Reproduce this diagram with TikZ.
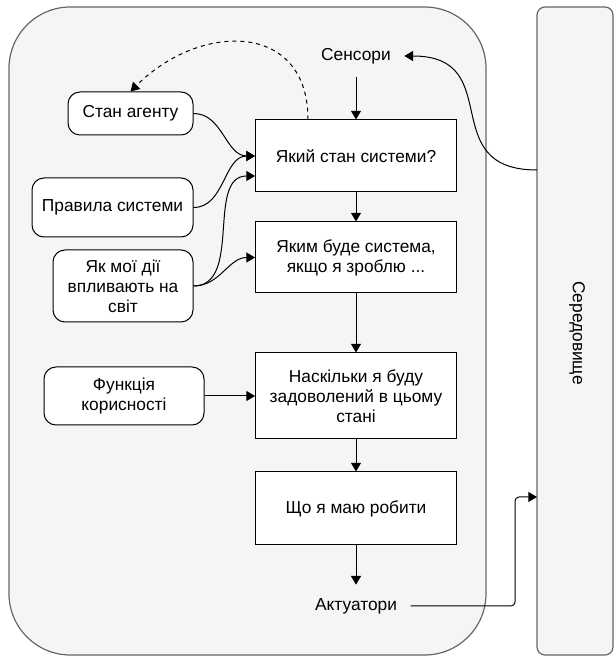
\documentclass[tikz,border=0pt]{standalone}
\usepackage{fontspec}
\setmainfont{Liberation Sans}
\usetikzlibrary{graphs}
\usetikzlibrary{arrows.meta}
\usetikzlibrary{calc}
\definecolor{panelfill}{HTML}{F5F5F5}
\definecolor{panelline}{HTML}{666666}
\tikzstyle{basic} = [text centered, align=center, font=\fontsize{13}{15}\selectfont]
\tikzstyle{question} = [basic, draw, fill=white, line width=0.75pt, minimum width=150.75pt]
\tikzstyle{knowledge} = [basic, draw, fill=white, line width=0.75pt, rounded corners=9pt]
\tikzstyle{port} = [basic, inner sep=10pt]
\tikzstyle{region} = [draw=panelline, fill=panelfill, line width=0.9pt]
\tikzstyle{flow} = [-{Triangle[length=6.5pt,width=7.5pt]}, line width=0.75pt]

\begin{document}
\begin{tikzpicture}[x=0.75pt, y=0.75pt]
        \useasboundingbox (0,0) rectangle (614,657);

        % agent and environment
        \draw[region, rounded corners=46pt] (9,2) rectangle (486,650);
        \node[region, rounded corners=6pt, minimum width=57pt, minimum height=486pt] (env) at (575,326) {};
        \node[basic, rotate=-90] (envname) at (577,324) {Середовище};

        % agent internals
        \node[port](sens) at (356,601) {Сенсори};
        \node[question, minimum height=54pt](q1) at (356,501) {Який стан системи?};
        \node[question, minimum height=53.25pt](q2) at (356,399.5) {Яким буде система, \\ якщо я зроблю ...};
        \node[question, minimum height=64.5pt](q3) at (356,261) {Наскільки я буду \\ задоволений в цьому \\ стані};
        \node[question, minimum height=54.75pt](q4) at (356,148.5) {Що я маю робити};
        \node[port](act) at (356,51) {Актуатори};

        \node[knowledge, minimum width=93.75pt, minimum height=32.25pt](state) at (130.5,543.5) {Стан агенту};
        \node[knowledge, minimum width=120.75pt, minimum height=44.25pt](rules) at (112.5,449.5) {Правила системи};
        \node[knowledge, minimum width=105pt, minimum height=54pt](world) at (123,371) {Як мої дії \\ впливають на \\ світ};
        \node[knowledge, minimum width=120pt, minimum height=43.5pt](util) at (124,261) {Функція \\ корисності};

        \coordinate (q1in) at ($(q1.west)+(0,-20)$);
        \coordinate (memo) at ($(q1.north)+(-48,0)$);
        \coordinate (statetop) at (state.north);
        \coordinate (envout) at (537,487);
        \coordinate (envin) at (537,160);

        \graph {
            (sens) ->[flow] (q1);
            (q1) ->[flow] (q2);
            (q2) ->[flow] (q3);
            (q3) ->[flow] (q4);
            (q4) ->[flow] (act);
            (state) ->[flow, out=0, in=180] (q1);
            (rules) ->[flow, out=0, in=180] (q1);
            (world) ->[flow, out=0, in=180] (q1in);
            (world) ->[flow, out=0, in=180] (q2);
            (util) ->[flow] (q3);
            (memo) ->[flow, dashed, out=90, in=45, looseness=1.4] (statetop);
            (envout) ->[flow, out=180, in=0, looseness=1.5] (sens);
            (act) ->[flow, rounded corners=3pt, to path={-- ++(159,0) |- (\tikztotarget)}] (envin);
        };
    \end{tikzpicture}
\end{document}
